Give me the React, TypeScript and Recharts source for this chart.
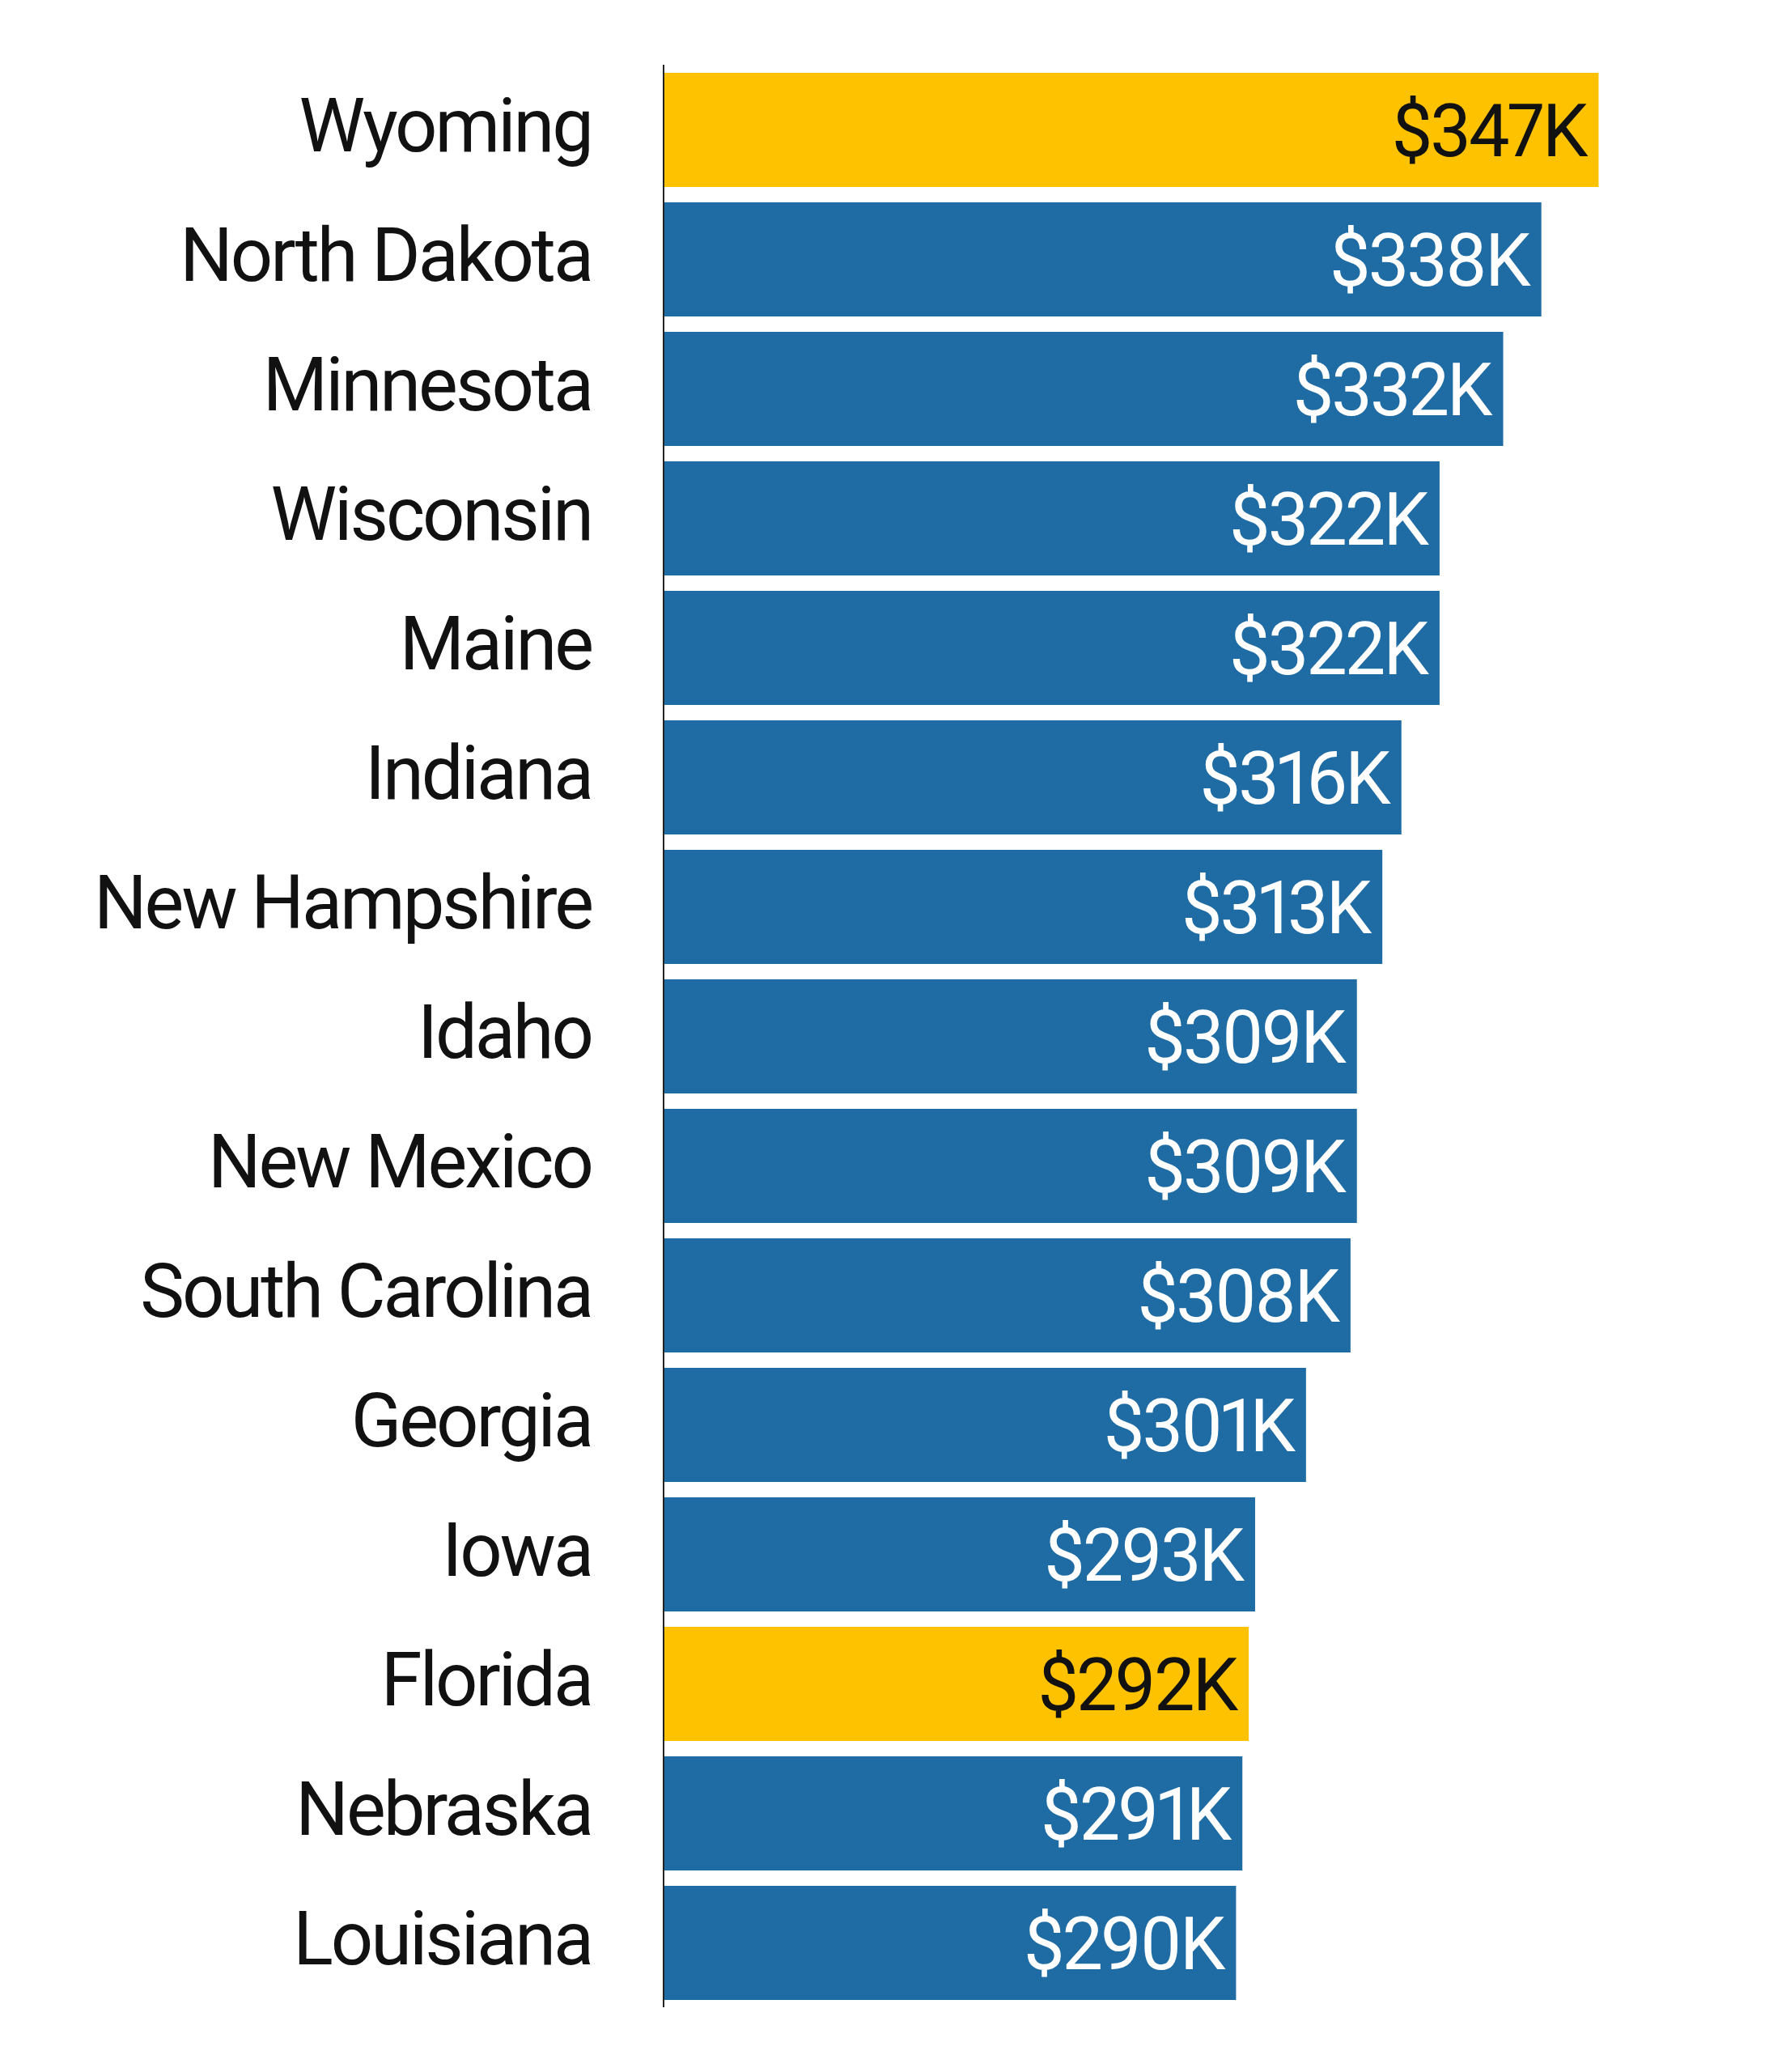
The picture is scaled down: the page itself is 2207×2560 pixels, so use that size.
import { BarChart, Bar, XAxis, YAxis, Cell, LabelList } from "recharts";

const STATES = [
  "Wyoming",
  "North Dakota",
  "Minnesota",
  "Wisconsin",
  "Maine",
  "Indiana",
  "New Hampshire",
  "Idaho",
  "New Mexico",
  "South Carolina",
  "Georgia",
  "Iowa",
  "Florida",
  "Nebraska",
  "Louisiana",
];

// thousands of dollars
const VALUES = [347, 338, 332, 322, 322, 316, 313, 309, 309, 308, 301, 293, 292, 291, 290];

const HIGHLIGHT = ["Wyoming", "Florida"];

const BLUE = "#1f6ca4";
const GOLD = "#ffc200";
const FONT = "Roboto, 'Noto Sans', sans-serif";

const data = STATES.map((name, i) => ({
  name,
  value: VALUES[i],
  hl: HIGHLIGHT.includes(name),
}));

const StateTick = (props: any) => {
  const { x, y, payload } = props;
  return (
    <text
      x={x}
      y={y + 27}
      textAnchor="end"
      fontFamily={FONT}
      fontSize={92}
      letterSpacing={-3}
      fill="#111"
    >
      {payload.value}
    </text>
  );
};

const ValueLabel = (props: any) => {
  const { x, y, width, height, index } = props;
  const d = data[index];
  return (
    <text
      x={x + width - 16}
      y={y + height / 2 + 32}
      textAnchor="end"
      fontFamily={FONT}
      fontSize={90}
      letterSpacing={-3}
      style={{ fontVariantNumeric: "proportional-nums" }}
      fill={d.hl ? "#111" : "#ffffff"}
    >
      {`$${Math.round(d.value)}K`}
    </text>
  );
};

export default function App() {
  return (
    <div style={{ position: "absolute", left: 0, top: 0, background: "#fff" }}>
      <BarChart
        width={2207}
        height={2560}
        data={data}
        layout="vertical"
        margin={{ top: 80, right: 208, bottom: 80, left: 0 }}
      >
        <XAxis type="number" domain={[200, 350]} allowDataOverflow hide />
        <YAxis
          type="category"
          dataKey="name"
          width={820}
          axisLine={{ stroke: "#222", strokeWidth: 2 }}
          tickLine={false}
          tickSize={0}
          tickMargin={89}
          tick={<StateTick />}
          interval={0}
        />
        <Bar dataKey="value" barSize={141} isAnimationActive={false}>
          {data.map((d, i) => (
            <Cell key={`c-${i}`} fill={d.hl ? GOLD : BLUE} />
          ))}
          <LabelList dataKey="value" content={<ValueLabel />} />
        </Bar>
      </BarChart>
    </div>
  );
}
